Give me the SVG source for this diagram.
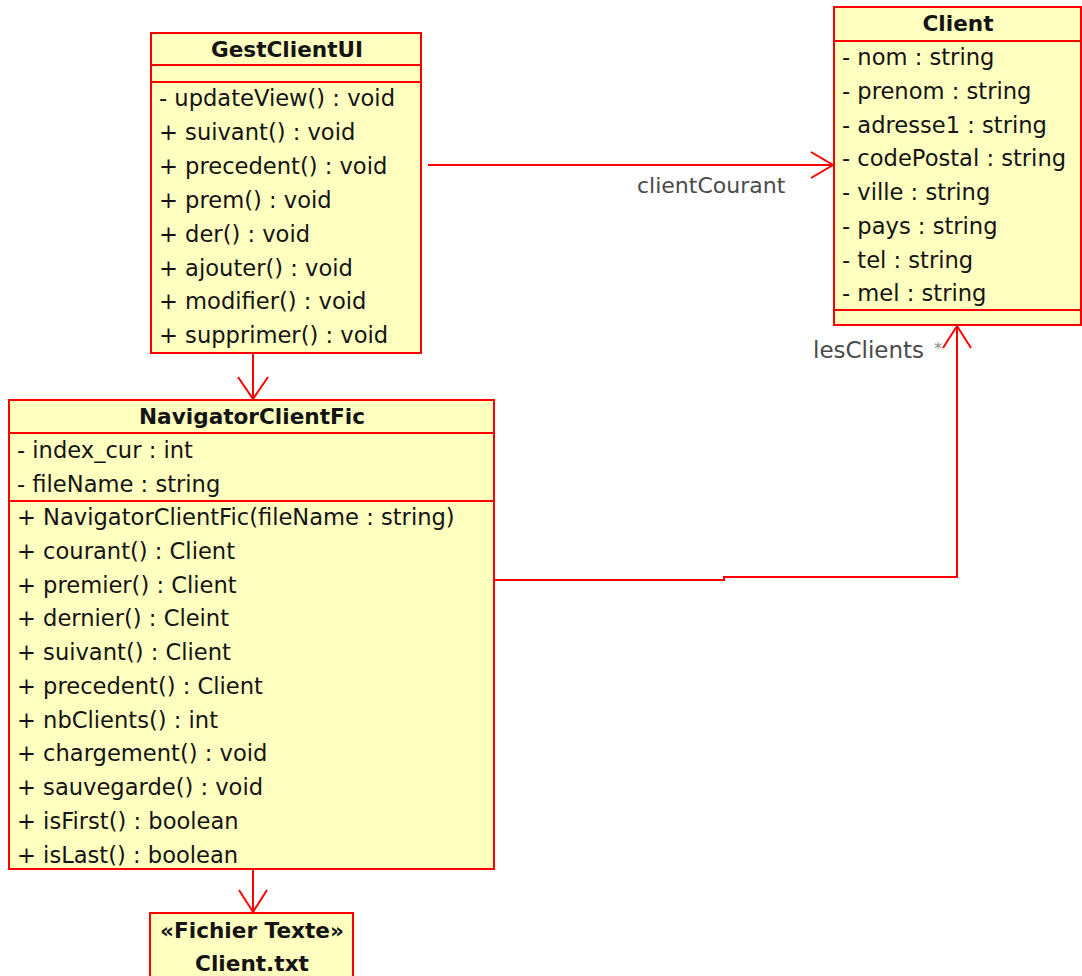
<svg xmlns="http://www.w3.org/2000/svg" width="1082" height="976" viewBox="0 0 1082 976">
  <style>
    .box { fill: #ffffc0; stroke: #ff0000; stroke-width: 2; }
    .sep { stroke: #ff0000; stroke-width: 2; }
    .title { font-family: "DejaVu Sans", "Liberation Sans", sans-serif; font-size: 21.6px; font-weight: bold; fill: #141414; text-anchor: middle; }
    .member { font-family: "DejaVu Sans", "Liberation Sans", sans-serif; font-size: 22.6px; fill: #141414; }
    .label { font-family: "DejaVu Sans", "Liberation Sans", sans-serif; font-size: 22px; fill: #4a4a4a; }
    .mult { font-family: "DejaVu Sans", "Liberation Sans", sans-serif; font-size: 16px; fill: #8a8a8a; }
    .conn { fill: none; stroke: #ff0000; stroke-width: 2; }
    .head { fill: none; stroke: #ff0000; stroke-width: 2; }
  </style>
  <rect width="1082" height="976" fill="#ffffff"/>

  <!-- GestClientUI -->
  <g id="GestClientUI">
    <rect class="box" x="151" y="33" width="270" height="320"/>
    <line class="sep" x1="151" y1="65" x2="421" y2="65"/>
    <line class="sep" x1="151" y1="82" x2="421" y2="82"/>
    <text class="title" x="287" y="57">GestClientUI</text>
    <text class="member" x="159" y="106">- updateView() : void</text>
    <text class="member" x="159" y="140">+ suivant() : void</text>
    <text class="member" x="159" y="174">+ precedent() : void</text>
    <text class="member" x="159" y="208">+ prem() : void</text>
    <text class="member" x="159" y="242">+ der() : void</text>
    <text class="member" x="159" y="276">+ ajouter() : void</text>
    <text class="member" x="159" y="309">+ modifier() : void</text>
    <text class="member" x="159" y="343">+ supprimer() : void</text>
  </g>

  <!-- Client -->
  <g id="Client">
    <rect class="box" x="834" y="7" width="247" height="318"/>
    <line class="sep" x1="834" y1="41" x2="1081" y2="41"/>
    <line class="sep" x1="834" y1="310" x2="1081" y2="310"/>
    <text class="title" x="958" y="31">Client</text>
    <text class="member" x="842" y="65">- nom : string</text>
    <text class="member" x="842" y="99">- prenom : string</text>
    <text class="member" x="842" y="133">- adresse1 : string</text>
    <text class="member" x="842" y="166">- codePostal : string</text>
    <text class="member" x="842" y="200">- ville : string</text>
    <text class="member" x="842" y="234">- pays : string</text>
    <text class="member" x="842" y="268">- tel : string</text>
    <text class="member" x="842" y="301">- mel : string</text>
  </g>

  <!-- NavigatorClientFic -->
  <g id="NavigatorClientFic">
    <rect class="box" x="9" y="400" width="485" height="469"/>
    <line class="sep" x1="9" y1="433" x2="494" y2="433"/>
    <line class="sep" x1="9" y1="501" x2="494" y2="501"/>
    <text class="title" x="252" y="424">NavigatorClientFic</text>
    <text class="member" x="17" y="458">- index_cur : int</text>
    <text class="member" x="17" y="492">- fileName : string</text>
    <text class="member" x="17" y="525">+ NavigatorClientFic(fileName : string)</text>
    <text class="member" x="17" y="559">+ courant() : Client</text>
    <text class="member" x="17" y="593">+ premier() : Client</text>
    <text class="member" x="17" y="626">+ dernier() : Cleint</text>
    <text class="member" x="17" y="660">+ suivant() : Client</text>
    <text class="member" x="17" y="694">+ precedent() : Client</text>
    <text class="member" x="17" y="728">+ nbClients() : int</text>
    <text class="member" x="17" y="761">+ chargement() : void</text>
    <text class="member" x="17" y="795">+ sauvegarde() : void</text>
    <text class="member" x="17" y="829">+ isFirst() : boolean</text>
    <text class="member" x="17" y="863">+ isLast() : boolean</text>
  </g>

  <!-- Client.txt file -->
  <g id="ClientTxt">
    <rect class="box" x="150" y="913" width="203" height="70"/>
    <text class="title" x="252" y="938">«Fichier Texte»</text>
    <text class="title" x="252" y="971">Client.txt</text>
  </g>

  <!-- Connectors -->
  <g id="connectors">
    <!-- GestClientUI -> Client (clientCourant) -->
    <line class="conn" x1="428" y1="165" x2="833" y2="165"/>
    <polyline class="head" points="811,152 833,165 811,178"/>
    <text class="label" x="637" y="193">clientCourant</text>

    <!-- GestClientUI -> NavigatorClientFic -->
    <line class="conn" x1="253" y1="353" x2="253" y2="399"/>
    <polyline class="head" points="238,377 253,399 268,377"/>

    <!-- NavigatorClientFic -> Client (lesClients *) -->
    <polyline class="conn" points="494,580 724,580 724,577 957,577 957,326"/>
    <polyline class="head" points="943,348 957,326 971,348"/>
    <text class="label" x="813" y="358" style="font-size:23px">lesClients</text>
    <text class="mult" x="934" y="354">*</text>

    <!-- NavigatorClientFic -> Client.txt -->
    <line class="conn" x1="253" y1="869" x2="253" y2="912"/>
    <polyline class="head" points="239,890 253,912 267,890"/>
  </g>
</svg>
